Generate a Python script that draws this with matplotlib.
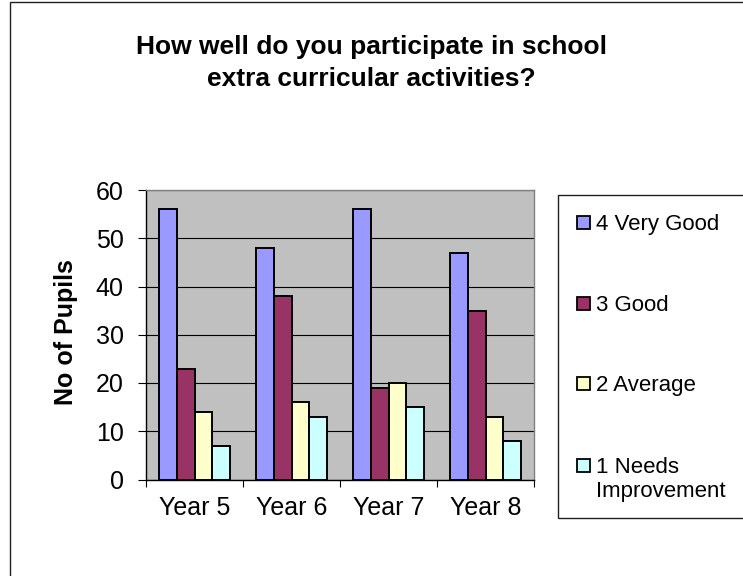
import matplotlib.pyplot as plt
from matplotlib.patches import Rectangle
import numpy as np

plt.rcParams['font.family'] = ['Liberation Sans', 'DejaVu Sans']

# data
years = ["Year 5", "Year 6", "Year 7", "Year 8"]
series = ["4 Very Good", "3 Good", "2 Average", "1 Needs\nImprovement"]
very_good = [56, 48, 56, 47]
good = [23, 38, 19, 35]
average = [14, 16, 20, 13]
needs_impr = [7, 13, 15, 8]
values = [very_good, good, average, needs_impr]
colors = ["#9999FF", "#993366", "#FFFFCC", "#CCFFFF"]

W, H = 743, 576
fig = plt.figure(figsize=(W / 100, H / 100), dpi=100)

# outer chart frame (right / bottom edges fall outside the picture)
fig.patches.append(Rectangle((10 / W, -0.1), 1.2, 1 - 2 / H + 0.1, transform=fig.transFigure,
                             fill=False, edgecolor="#202020", linewidth=1.0))

ax = fig.add_axes([146 / W, 1 - 479.5 / H, 388 / W, 289.5 / H])
ax.set_facecolor("#C0C0C0")

x = np.arange(len(years))
bw = 1 / (len(series) + 1.5)
for i, (vals, c) in enumerate(zip(values, colors)):
    ax.bar(x + (i - 1.5) * bw, vals, bw, color=c, edgecolor="black", linewidth=1.4, zorder=3)

ax.set_xlim(-0.5, len(years) - 0.5)
ax.set_ylim(0, 60)
ax.set_yticks(range(0, 61, 10))
ax.yaxis.grid(True, color="black", linewidth=0.8, zorder=1)
ax.set_xticks(x)
ax.set_xticklabels(years)
ax.set_xticks(np.arange(-0.5, len(years)), minor=True)
ax.tick_params(axis="x", which="major", length=0, pad=12, labelsize=18)
ax.tick_params(axis="x", which="minor", length=5, width=0.8, direction="out")
ax.tick_params(axis="y", length=6, width=0.8, pad=10, labelsize=18)

for s in ["top", "right"]:
    ax.spines[s].set_color("#808080")
for s in ["left", "bottom"]:
    ax.spines[s].set_color("black")
for s in ax.spines.values():
    s.set_linewidth(1.0)

ax.set_ylabel("No of Pupils", fontsize=18, fontweight="bold")
ax.yaxis.set_label_coords(-0.175, 0.51)

fig.text(0.5, 1 - 35 / H, "How well do you participate in school\nextra curricular activities?",
         ha="center", va="top", fontsize=19, fontweight="bold", linespacing=1.4)

# legend box
fig.patches.append(Rectangle((558 / W, 1 - 518 / H), 0.5, 323 / H, transform=fig.transFigure,
                             fill=True, facecolor="white", edgecolor="#202020", linewidth=1.0))
baselines = [230, 311, 391, 473]
for name, c, yy in zip(series, colors, baselines):
    fig.patches.append(Rectangle((577 / W, 1 - (yy - 1) / H), 13 / W, 13 / H,
                                 transform=fig.transFigure, facecolor=c,
                                 edgecolor="black", linewidth=1.3))
    fig.text(596 / W, 1 - (yy - 16) / H, name, ha="left", va="top", fontsize=16, linespacing=1.2)

fig.savefig("out.png", dpi=100)
